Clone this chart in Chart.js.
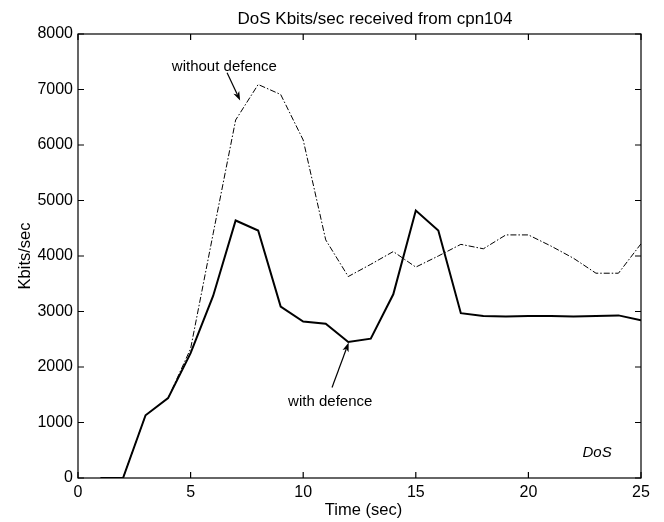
<!DOCTYPE html>
<html>
<head>
<meta charset="utf-8">
<title>DoS Kbits/sec received from cpn104</title>
<script src="https://cdn.jsdelivr.net/npm/chart.js@4/dist/chart.umd.min.js"></script>
<style>
    html, body { margin: 0; padding: 0; background: #fff; }
    #wrap { width: 664px; height: 522px; }
</style>
</head>
<body>
<div id="wrap"><canvas id="dosChart" width="664" height="522"></canvas></div>
<script>
// time in seconds
const timeSec = [1, 2, 3, 4, 5, 6, 7, 8, 9, 10, 11, 12, 13, 14, 15, 16, 17, 18, 19, 20, 21, 22, 23, 24, 25];

// Kbits/sec
const withDefence = [0, 0, 1130, 1440, 2250, 3280, 4640, 4460, 3090, 2820, 2780, 2450, 2510, 3310, 4820, 4460, 2970, 2920, 2910, 2920, 2920, 2910, 2920, 2930, 2840];
const withoutDefence = [0, 0, 1130, 1440, 2330, 4400, 6450, 7090, 6910, 6090, 4290, 3630, 3850, 4080, 3800, 4000, 4210, 4130, 4380, 4380, 4180, 3960, 3690, 3690, 4220];

const xTicks = [0, 5, 10, 15, 20, 25];
const yTicks = [0, 1000, 2000, 3000, 4000, 5000, 6000, 7000, 8000];

const FONT = "'Liberation Sans', Arial, Helvetica, sans-serif";

function toPoints(xs, ys) {
    return xs.map((x, i) => ({ x: x, y: ys[i] }));
}

// frame, inside ticks, titles and the two arrows
const decorations = {
    id: "decorations",
    afterDraw(chart) {
        const ctx = chart.ctx;
        const area = chart.chartArea;
        const xs = chart.scales.x;
        const ys = chart.scales.y;

        ctx.save();
        ctx.strokeStyle = "#000";
        ctx.lineWidth = 1.2;
        ctx.strokeRect(area.left, area.top, area.right - area.left, area.bottom - area.top);

        // tick marks point inward, on all four sides
        ctx.beginPath();
        xTicks.forEach(v => {
            const px = xs.getPixelForValue(v);
            ctx.moveTo(px, area.bottom);
            ctx.lineTo(px, area.bottom - 6);
            ctx.moveTo(px, area.top);
            ctx.lineTo(px, area.top + 6);
        });
        yTicks.forEach(v => {
            const py = ys.getPixelForValue(v);
            ctx.moveTo(area.left, py);
            ctx.lineTo(area.left + 6, py);
            ctx.moveTo(area.right, py);
            ctx.lineTo(area.right - 6, py);
        });
        ctx.stroke();

        ctx.fillStyle = "#000";
        ctx.textAlign = "center";
        ctx.textBaseline = "alphabetic";

        // title
        ctx.font = "17px " + FONT;
        ctx.fillText("DoS Kbits/sec received from cpn104", 375, 24);

        // axis titles
        ctx.font = "16.5px " + FONT;
        ctx.fillText("Time (sec)", (area.left + area.right) / 2 + 4, 515);
        ctx.save();
        ctx.translate(30, (area.top + area.bottom) / 2);
        ctx.rotate(-Math.PI / 2);
        ctx.fillText("Kbits/sec", 0, 0);
        ctx.restore();

        // annotations
        ctx.font = "15px " + FONT;
        ctx.fillText("without defence", xs.getPixelForValue(6.5), ys.getPixelForValue(7340));
        arrow(ctx, xs.getPixelForValue(6.62), ys.getPixelForValue(7300), xs.getPixelForValue(7.2), ys.getPixelForValue(6800));

        ctx.fillText("with defence", xs.getPixelForValue(11.2), ys.getPixelForValue(1300));
        arrow(ctx, xs.getPixelForValue(11.28), ys.getPixelForValue(1630), xs.getPixelForValue(12.02), ys.getPixelForValue(2440));

        ctx.font = "italic 15px " + FONT;
        ctx.fillText("DoS", xs.getPixelForValue(23.05), ys.getPixelForValue(380));
        ctx.restore();
    }
};

function arrow(ctx, x1, y1, x2, y2) {
    const ang = Math.atan2(y2 - y1, x2 - x1);
    const len = 9;
    const half = 3.2;
    ctx.beginPath();
    ctx.lineWidth = 1.2;
    ctx.moveTo(x1, y1);
    ctx.lineTo(x2 - Math.cos(ang) * len * 0.8, y2 - Math.sin(ang) * len * 0.8);
    ctx.stroke();
    ctx.beginPath();
    ctx.moveTo(x2, y2);
    ctx.lineTo(x2 - Math.cos(ang) * len - Math.sin(ang) * half, y2 - Math.sin(ang) * len + Math.cos(ang) * half);
    ctx.lineTo(x2 - Math.cos(ang) * len * 0.75, y2 - Math.sin(ang) * len * 0.75);
    ctx.lineTo(x2 - Math.cos(ang) * len + Math.sin(ang) * half, y2 - Math.sin(ang) * len - Math.cos(ang) * half);
    ctx.closePath();
    ctx.fill();
}

new Chart(document.getElementById("dosChart"), {
    type: "line",
    data: {
        datasets: [
            {
                label: "with defence",
                data: toPoints(timeSec, withDefence),
                borderColor: "#000",
                borderWidth: 2,
                pointRadius: 0,
                tension: 0,
                order: 0
            },
            {
                label: "without defence",
                data: toPoints(timeSec, withoutDefence),
                borderColor: "#000",
                borderWidth: 1,
                borderDash: [6, 2, 1.5, 2],
                pointRadius: 0,
                tension: 0,
                order: 1
            }
        ]
    },
    options: {
        responsive: false,
        animation: false,
        layout: { padding: { top: 34, right: 23, left: 0, bottom: 0 } },
        plugins: {
            legend: { display: false },
            title: { display: false },
            tooltip: { enabled: false }
        },
        scales: {
            x: {
                type: "linear",
                min: 0,
                max: 25,
                afterFit(scale) { scale.height = 44; },
                afterBuildTicks(scale) { scale.ticks = xTicks.map(v => ({ value: v })); },
                grid: { display: false, drawTicks: false },
                border: { display: false },
                ticks: {
                    color: "#000",
                    padding: 5,
                    maxRotation: 0,
                    font: { family: FONT, size: 16 }
                }
            },
            y: {
                type: "linear",
                min: 0,
                max: 8000,
                afterFit(scale) { scale.width = 78; },
                afterBuildTicks(scale) { scale.ticks = yTicks.map(v => ({ value: v })); },
                grid: { display: false, drawTicks: false },
                border: { display: false },
                ticks: {
                    color: "#000",
                    padding: 5,
                    font: { family: FONT, size: 16 },
                    callback: v => String(v)
                }
            }
        }
    },
    plugins: [decorations]
});
</script>
</body>
</html>
